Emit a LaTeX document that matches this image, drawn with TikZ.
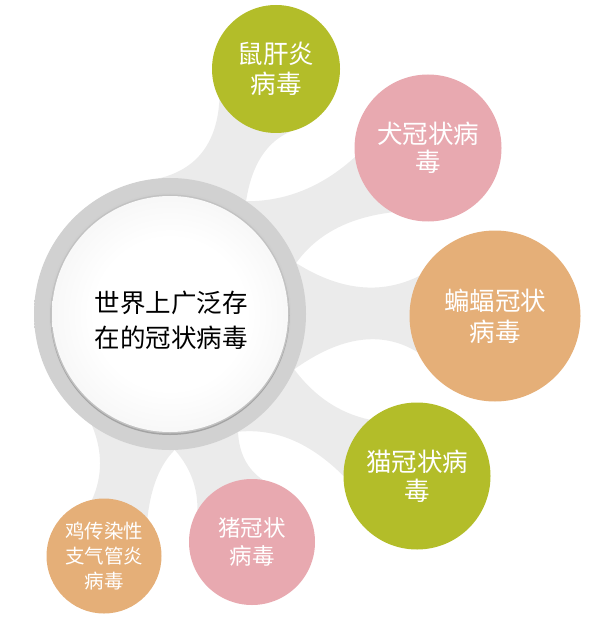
\documentclass[tikz,border=0pt]{standalone}
\usepackage{fontspec}
\setmainfont{Noto Sans CJK SC}
\usetikzlibrary{calc}
\definecolor{vgreen}{HTML}{B3BD29}
\definecolor{vpink}{HTML}{E8A9B0}
\definecolor{vtan}{HTML}{E5AF78}
\definecolor{conngrey}{HTML}{EBEBEB}
\pgfdeclarelayer{bg}
\pgfsetlayers{bg,main}
\pgfdeclareradialshading{ringshade}{\pgfpoint{0bp}{0bp}}{color(0bp)=(black!18); color(43bp)=(black!18); color(46bp)=(black!15); color(50bp)=(black!13); color(60bp)=(black!13)}
\pgfdeclareradialshading{innerball}{\pgfpoint{0bp}{0bp}}{color(0bp)=(white); color(16bp)=(white); color(50bp)=(black!11); color(60bp)=(black!11)}
\newcommand\drawconn[6]{%
  \fill[conn] (#1) .. controls ($(#1)!0.667!(#2)$) and ($(#3)!0.667!(#2)$) .. (#3)
    -- (#4) .. controls ($(#4)!0.667!(#5)$) and ($(#6)!0.667!(#5)$) .. (#6) -- cycle;}
\begin{document}
\begin{tikzpicture}[x=1pt,y=-1pt,
  sat/.style={circle,inner sep=0pt,outer sep=0pt,text=white,align=center},
  conn/.style={fill=conngrey}]
\useasboundingbox (0,0) rectangle (600,636);
% central ring
\node[circle,inner sep=0pt,outer sep=0pt,minimum size=272pt,shade,shading=ringshade] (C) at (170,314) {};
\fill[black!19] (C.center) circle[radius=121pt];
\fill[black!36] ($(C.center)+(0,1.5)$) circle[radius=119.5pt];
\fill[black!24] (C.center) circle[radius=119.5pt];
\shade[shading=innerball] (C.center) circle[radius=118pt];
\node[font=\fontsize{25.5}{35}\selectfont,align=center,inner sep=0pt] (ctext) at (171,320) {世界上广泛存\\在的冠状病毒};
% satellites
\node[sat,fill=vgreen,minimum size=128pt,font=\fontsize{25.5}{30}\selectfont] (S1) at (276,69) {鼠肝炎\\病毒};
\node[sat,fill=vpink,minimum size=147pt,font=\fontsize{25.5}{28}\selectfont] (S2) at (428,148) {犬冠状病\\毒};
\node[sat,fill=vtan,minimum size=171pt,font=\fontsize{25.5}{31}\selectfont] (S3) at (495,316) {蝙蝠冠状\\病毒};
\node[sat,fill=vgreen,minimum size=147pt,font=\fontsize{25.5}{29}\selectfont] (S4) at (417,476) {猫冠状病\\毒};
\node[sat,fill=vpink,minimum size=126pt,font=\fontsize{22.5}{28}\selectfont] (S5) at (252,542) {猪冠状\\病毒};
\node[sat,fill=vtan,minimum size=115pt,font=\fontsize{19.5}{25}\selectfont] (S6) at (104,556) {鸡传染性\\支气管炎\\病毒};
% connectors
\begin{pgfonlayer}{bg}
\drawconn{C.103}{215.5,175}{S1.-152}{S1.-68}{255.5,140}{C.56.7}
\drawconn{C.56.7}{306,201.5}{S2.-173}{S2.-119}{327,220}{C.22}
\drawconn{C.22}{362,304.5}{S3.152}{S3.-155}{364,319.5}{C.-24}
\drawconn{C.-24}{324.5,410}{S4.130}{S4.180}{293.5,426}{C.-60}
\drawconn{C.-60}{239.5,464}{S5.80}{S5.150}{198,476}{C.-88}
\drawconn{C.-88}{152.5,472}{S6.41}{S6.102}{108,464}{C.-125}
\end{pgfonlayer}
\end{tikzpicture}
\end{document}
